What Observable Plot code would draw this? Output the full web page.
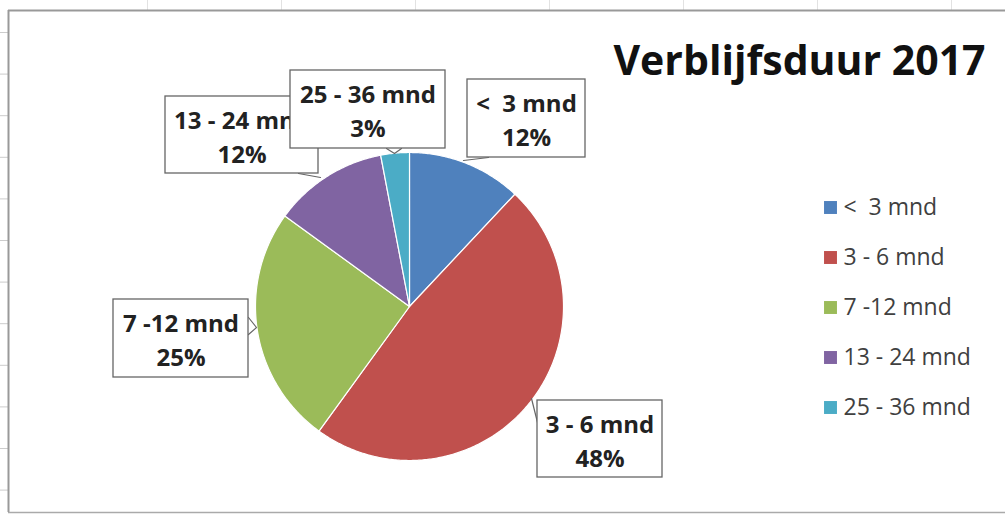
<!DOCTYPE html>
<html><head><meta charset="utf-8">
<script src="https://cdn.jsdelivr.net/npm/d3@7"></script>
<script src="https://cdn.jsdelivr.net/npm/@observablehq/plot@0.6"></script>
<style>
body{margin:0;background:#fff;}
#chart{width:1005px;height:515px;overflow:hidden;}
</style>
</head><body><div id="chart"></div>
<script>
// ---- data ----
const categories = ["<\u00a0 3 mnd", "3 - 6 mnd", "7 -12 mnd", "13 - 24 mnd", "25 - 36 mnd"];
const percents = [12, 48, 25, 12, 3];
const colors = ["#4F81BD", "#C0504D", "#9BBB59", "#8064A2", "#4BACC6"];
const title = "Verblijfsduur 2017";

// ---- layout (pixels) ----
const W = 1005, H = 515;
const cx = 409, cy = 306, R = 154;
const labelBoxes = [
  {x1: 467, x2: 585, y1: 79, y2: 157},
  {x1: 537, x2: 662, y1: 400, y2: 477},
  {x1: 113, x2: 248, y1: 299, y2: 377},
  {x1: 165, x2: 318, y1: 96, y2: 173},
  {x1: 290, x2: 445, y1: 70, y2: 148}
];
const leaders = [
  [[463, 160], [488, 157]],
  [[531, 398], [537, 422]],
  [[248, 317], [256, 327], [248, 334]],
  [[298, 173], [320, 177]],
  [[386, 148], [394, 153], [401, 148]]
];
const legendX = 830, legendY0 = 207, legendStep = 50;
const font = "'Open Sans', sans-serif";

// ---- derived ----
const table = categories.map((c, i) => ({cat: c, value: percents[i]}));
const arcs = d3.pie().sort(null).value(d => d.value)(table);
const slicePts = arcs.flatMap(a => {
  const n = Math.max(2, Math.ceil((a.endAngle - a.startAngle) / 0.01));
  const pts = [{cat: a.data.cat, x: cx, y: cy}];
  for (let k = 0; k <= n; k++) {
    const t = a.startAngle + (a.endAngle - a.startAngle) * k / n;
    pts.push({cat: a.data.cat, x: cx + R * Math.sin(t), y: cy - R * Math.cos(t)});
  }
  pts.push({cat: a.data.cat, x: cx, y: cy});
  return pts;
});
const labels = table.map((d, i) => ({...d, ...labelBoxes[i],
  text: d.cat + "\n" + d.value + "%"}));
const leaderPts = leaders.flatMap((l, i) => l.map(([x, y]) => ({id: i, x, y})));
const legendRows = table.map((d, i) => ({...d, ly: legendY0 + i * legendStep}));

const gridTop = d3.range(147, W, 134);
const gridLeft = d3.range(32, H, 41.6);

const labelMarks = labels.flatMap(l => [
  Plot.rect([l], {x1: "x1", x2: "x2", y1: "y1", y2: "y2", fill: "white", stroke: "#666", strokeWidth: 1.3}),
  Plot.text([l], {x: d => (d.x1 + d.x2) / 2, y: d => (d.y1 + d.y2) / 2, text: "text",
    lineAnchor: "middle", lineHeight: 1.4, fontSize: 24, fontWeight: "bold", fill: "#222", fontFamily: font})
]);

const chart = Plot.plot({
  width: W, height: H, margin: 0,
  x: {domain: [0, W], range: [0, W], axis: null},
  y: {domain: [0, H], range: [0, H], axis: null},
  color: {domain: categories, range: colors},
  style: {background: "white", fontFamily: font},
  marks: [
    // faint spreadsheet gridline stubs and chart border
    Plot.ruleX(gridTop, {y1: 0, y2: 10, stroke: "#e2e2e2"}),
    Plot.ruleY(gridLeft, {x1: 0, x2: 8, stroke: "#ccc"}),
    Plot.ruleY([10], {x1: 8, x2: W, stroke: "#999", strokeWidth: 2}),
    Plot.ruleY([512], {x1: 8, x2: W, stroke: "#aaa", strokeWidth: 1.5}),
    Plot.ruleX([8], {y1: 10, y2: 512, stroke: "#999", strokeWidth: 2}),
    // pie slices
    Plot.line(slicePts, {x: "x", y: "y", z: "cat", fill: "cat", stroke: "white", strokeWidth: 1.2, curve: "linear"}),
    // leader lines
    Plot.line(leaderPts, {x: "x", y: "y", z: "id", stroke: "#666", strokeWidth: 1.2}),
    // callout boxes
    ...labelMarks,
    // title
    Plot.text([title], {x: 799, y: 74, lineAnchor: "bottom", fontSize: 41, fontWeight: "bold", fill: "#111", fontFamily: font}),
    // legend
    Plot.dot(legendRows, {x: legendX, y: "ly", symbol: "square", r: 7.3, fill: "cat"}),
    Plot.text(legendRows, {x: legendX + 13, y: "ly", text: "cat", textAnchor: "start", lineAnchor: "middle",
      fontSize: 23, fill: "#404040", fontFamily: font})
  ]
});
document.getElementById("chart").appendChild(chart);
</script>
</body></html>
